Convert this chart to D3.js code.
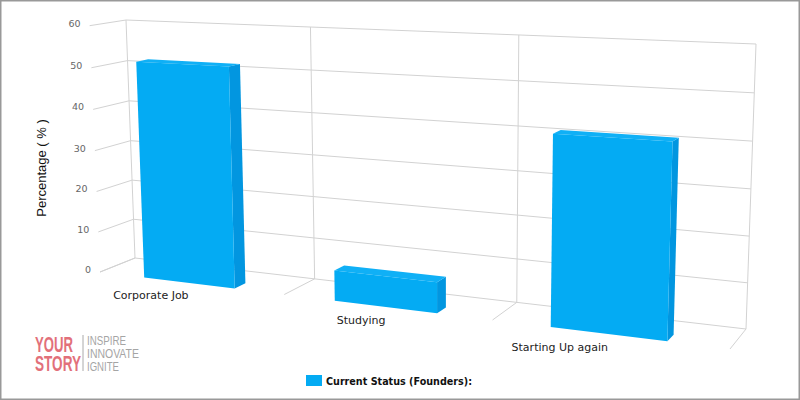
<!DOCTYPE html>
<html>
<head>
<meta charset="utf-8">
<script src="https://cdn.jsdelivr.net/npm/d3@7"></script>
<style>
  html, body { margin: 0; padding: 0; background: #fff; }
  svg { display: block; }
</style>
</head>
<body>
<div id="chart"></div>
<script>
const categories = ['Corporate Job', 'Studying', 'Starting Up again'];
const seriesName = 'Current Status (Founders):';
const founders = [52, 7, 41.5];
const valueTicks = [0, 10, 20, 30, 40, 50, 60];
const axisTitle = 'Percentage ( % )';
const logoWords = ['YOUR', 'STORY'];
const logoTagline = ['INSPIRE', 'INNOVATE', 'IGNITE'];

const width = 800;
const height = 400;

// back wall corners and where the floor ends, as they sit on the canvas
const wallBL = [135, 258];
const wallBR = [746, 329];
const wallTR = [756, 44];
const wallTL = [126, 20];
const floorL = [100, 272];
const floorR = [730, 345];

// square to quad, then one more term for the depth direction
const dx1 = wallBR[0] - wallTR[0];
const dx2 = wallTL[0] - wallTR[0];
const sx = wallBL[0] - wallBR[0] + wallTR[0] - wallTL[0];
const dy1 = wallBR[1] - wallTR[1];
const dy2 = wallTL[1] - wallTR[1];
const sy = wallBL[1] - wallBR[1] + wallTR[1] - wallTL[1];
const den = dx1 * dy2 - dx2 * dy1;
const g = (sx * dy2 - dx2 * sy) / den;
const h = (dx1 * sy - sx * dy1) / den;
const a = wallBR[0] - wallBL[0] + g * wallBR[0];
const b = wallTL[0] - wallBL[0] + h * wallTL[0];
const c = wallBL[0];
const d = wallBR[1] - wallBL[1] + g * wallBR[1];
const e = wallTL[1] - wallBL[1] + h * wallTL[1];
const f = wallBL[1];
const r1 = (a - floorR[0] * g) / (floorR[0] - floorL[0]);
const p = floorL[0] * r1 - c;
const q = floorL[1] * r1 - f;
const r = r1 - 1;

function project(u, v, w) {
  const z = g * u + h * v + 1 + r * w;
  return [(a * u + b * v + c + p * w) / z, (d * u + e * v + f + q * w) / z];
}

const v = d3.scaleLinear().domain([0, 60]).range([0, 1]);
const slot = d3.scaleBand().domain(categories).range([0, 1]).paddingInner(0.51).paddingOuter(0.25);
const edges = d3.scaleLinear().domain([0, 3]).range([0, 1]);

const svg = d3.select('#chart').append('svg').attr('width', width).attr('height', height);
const line = d3.line();
const poly = (pts) => line(pts) + 'Z';

svg.append('rect').attr('x', 0.75).attr('y', 0.75)
  .attr('width', width - 1.5).attr('height', height - 1.5)
  .attr('fill', '#fff').attr('stroke', '#999').attr('stroke-width', 1.5);

const grid = svg.append('g').attr('fill', 'none').attr('stroke', '#d2d2d2').attr('stroke-width', 1);

valueTicks.forEach((t) => {
  grid.append('path').attr('d', line([project(0, v(t), 1), project(0, v(t), 0), project(1, v(t), 0)]));
});
d3.range(4).forEach((i) => {
  grid.append('path').attr('d', line([project(edges(i), 1, 0), project(edges(i), 0, 0), project(edges(i), 0, 1)]));
});

svg.append('g').selectAll('text').data(valueTicks).join('text')
  .attr('x', (t) => project(0, v(t), 1)[0] - 9)
  .attr('y', (t) => project(0, v(t), 1)[1] + 1)
  .attr('text-anchor', 'end')
  .attr('font-family', 'DejaVu Sans')
  .attr('font-size', 9.5)
  .attr('fill', '#666')
  .text((t) => t);

const bars = svg.append('g');
categories.forEach((cat, i) => {
  const u0 = slot(cat);
  const u1 = u0 + slot.bandwidth();
  const top = v(founders[i]);
  const frontW = 1;
  const backW = 0.67;
  const cuboid = bars.append('g');
  cuboid.append('path')
    .attr('d', poly([project(u1, 0, frontW), project(u1, top, frontW), project(u1, top, backW), project(u1, 0, backW)]))
    .attr('fill', '#0296e0');
  cuboid.append('path')
    .attr('d', poly([project(u0, top, frontW), project(u1, top, frontW), project(u1, top, backW), project(u0, top, backW)]))
    .attr('fill', '#10b0f6');
  cuboid.append('path')
    .attr('d', poly([project(u0, 0, frontW), project(u1, 0, frontW), project(u1, top, frontW), project(u0, top, frontW)]))
    .attr('fill', '#04abf3');
});

// label anchors do not follow the slots in the original, so each has its own shift
const labelShift = [-38.5, -24, -47.5];
const labelDrop = [16, 17, 17];
svg.append('g').selectAll('text').data(categories).join('text')
  .attr('x', (cat, i) => project(edges(i + 0.5), 0, 1)[0] + labelShift[i])
  .attr('y', (cat, i) => project(edges(i + 0.5), 0, 1)[1] + labelDrop[i])
  .attr('text-anchor', 'middle')
  .attr('font-family', 'DejaVu Sans')
  .attr('font-size', 11)
  .attr('fill', '#222')
  .text((cat) => cat);

svg.append('text')
  .attr('transform', 'translate(46,168) rotate(-90)')
  .attr('text-anchor', 'middle')
  .attr('font-family', 'Liberation Sans')
  .attr('font-size', 13)
  .attr('fill', '#111')
  .text(axisTitle);

svg.append('rect').attr('x', 306).attr('y', 375).attr('width', 16).attr('height', 11).attr('fill', '#04abf3');
svg.append('text')
  .attr('x', 326).attr('y', 385)
  .attr('font-family', 'DejaVu Sans')
  .attr('font-weight', 'bold')
  .attr('font-size', 10)
  .attr('textLength', 146)
  .attr('lengthAdjust', 'spacingAndGlyphs')
  .attr('fill', '#111')
  .text(seriesName);

// squeeze a logo word sideways to the width it has in the original
function squeeze(sel, x, baseline, widths) {
  sel.attr('transform', function (w, i) {
    const k = widths[i] / this.getComputedTextLength();
    return `translate(${x},${baseline(i)}) scale(${k},1)`;
  });
}

const logo = svg.append('g');
logo.selectAll('text.word').data(logoWords).join('text')
  .attr('class', 'word')
  .attr('font-family', 'Liberation Sans')
  .attr('font-weight', 'bold')
  .attr('font-size', 22)
  .attr('fill', '#e2707a')
  .text((w) => w)
  .call(squeeze, 35, (i) => 352 + i * 19, [38, 46]);
logo.append('line').attr('x1', 83).attr('x2', 83).attr('y1', 335).attr('y2', 371).attr('stroke', '#aaa');
logo.selectAll('text.tag').data(logoTagline).join('text')
  .attr('class', 'tag')
  .attr('font-family', 'Liberation Sans')
  .attr('font-size', 12.5)
  .attr('fill', '#a5a5a5')
  .text((w) => w)
  .call(squeeze, 87, (i) => 345 + i * 13, [39, 52, 32]);
</script>
</body>
</html>
